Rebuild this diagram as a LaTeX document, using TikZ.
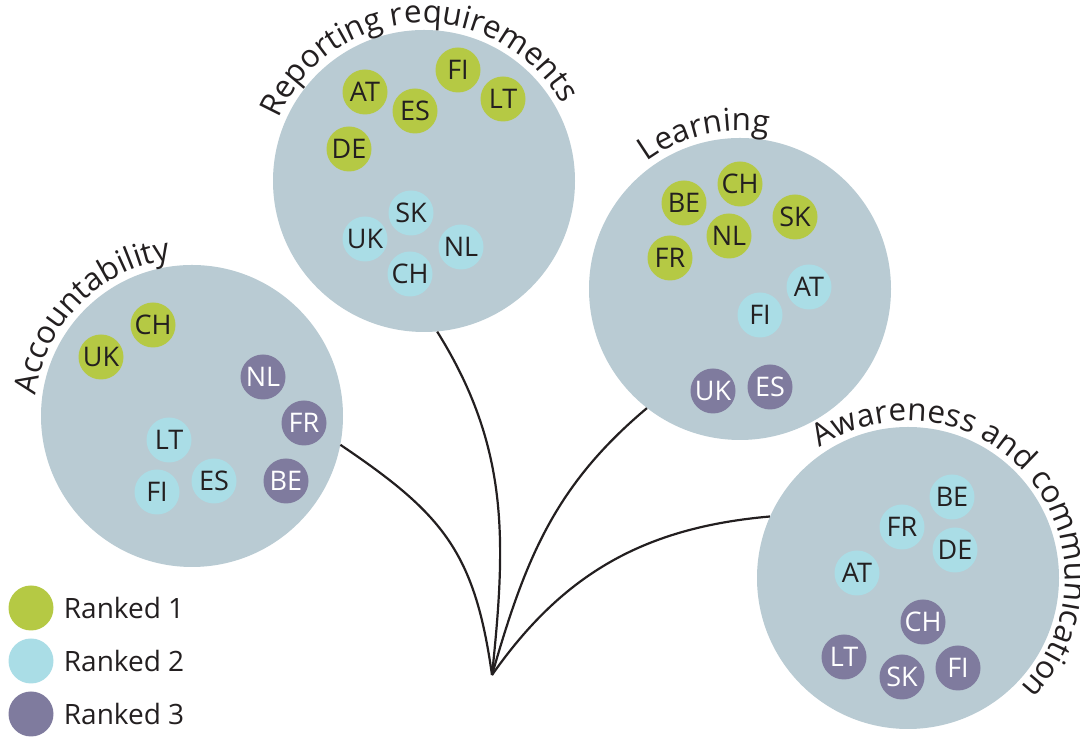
\documentclass[tikz,border=0pt]{standalone}
\usepackage{fontspec}
\setmainfont{Open Sans}
\usetikzlibrary{positioning,decorations.text}
\definecolor{topicgrey}{RGB}{185,203,211}
\definecolor{rankgreen}{RGB}{181,201,68}
\definecolor{rankblue}{RGB}{170,221,230}
\definecolor{rankpurple}{RGB}{127,123,158}
\definecolor{inkdark}{RGB}{35,31,32}

\begin{document}
\begin{tikzpicture}[
  x=1pt, y=1pt,
  every node/.style={font=\fontsize{27}{30}\selectfont, text=inkdark},
  topic/.style={circle, fill=topicgrey, minimum size=302pt, inner sep=0pt},
  country/.style={circle, minimum size=45pt, inner sep=0pt},
  rankone/.style={country, fill=rankgreen},
  ranktwo/.style={country, fill=rankblue},
  rankthree/.style={country, fill=rankpurple, text=white},
  branch/.style={draw=inkdark, line width=2.2pt},
  legendtext/.style={inner sep=0pt, font=\fontsize{28}{32}\selectfont},
  arclabel/.style={decorate, decoration={text along path, text align=center,
    text color=inkdark, text={|\fontsize{31.5}{36}\selectfont|#1}}}
  ]
\useasboundingbox (0,0) rectangle (1080,738);

% topic circles
\node[topic] (acc) at (192,322) {};
\node[topic] (rep) at (424,557) {};
\node[topic] (lea) at (740,449) {};
\node[topic] (awa) at (908,160) {};

% labels along the circles
\path[arclabel=Accountability] ([shift={(195:158)}]acc.center) arc[start angle=195, end angle=75, radius=158];
\path[arclabel=Reporting requirements] ([shift={(173:158)}]rep.center) arc[start angle=173, end angle=13, radius=158];
\path[arclabel=Learning] ([shift={(153:158)}]lea.center) arc[start angle=153, end angle=53, radius=158];
\path[arclabel=Awareness and communication] ([shift={(140:157)}]awa.center) arc[start angle=140, end angle=-60, radius=157];

% branches
\coordinate (hub) at (492,63);
\draw[branch] (hub) to[out=98,in=326,looseness=1.15] (acc.349);
\draw[branch] (hub) to[out=84,in=302] (rep.275);
\draw[branch] (hub) to[out=74,in=220] (lea.232);
\draw[branch] (hub) to[out=55,in=185] (awa.156);

% Accountability
\node[rankone] (accCH) at (153,413) {CH};
\node[rankone] (accUK) at (101,381) {UK};
\node[rankthree] (accNL) at (263,361) {NL};
\node[rankthree] (accFR) at (304,315) {FR};
\node[rankthree] (accBE) at (286,257) {BE};
\node[ranktwo] (accLT) at (169,298) {LT};
\node[ranktwo] (accES) at (214,257) {ES};
\node[ranktwo] (accFI) at (157,246) {FI};

% Reporting requirements
\node[rankone] (repAT) at (365,646) {AT};
\node[rankone] (repES) at (415,627) {ES};
\node[rankone] (repFI) at (458,668) {FI};
\node[rankone] (repLT) at (503,639) {LT};
\node[rankone] (repDE) at (349,589) {DE};
\node[ranktwo] (repSK) at (411,525) {SK};
\node[ranktwo] (repUK) at (365,499) {UK};
\node[ranktwo] (repNL) at (461,491) {NL};
\node[ranktwo] (repCH) at (410,464) {CH};

% Learning
\node[rankone] (leaBE) at (684,535) {BE};
\node[rankone] (leaCH) at (740,554) {CH};
\node[rankone] (leaSK) at (795,521) {SK};
\node[rankone] (leaNL) at (729,502) {NL};
\node[rankone] (leaFR) at (670,480) {FR};
\node[ranktwo] (leaAT) at (809,451) {AT};
\node[ranktwo] (leaFI) at (760,423) {FI};
\node[rankthree] (leaUK) at (713,347) {UK};
\node[rankthree] (leaES) at (770,351) {ES};

% Awareness and communication
\node[ranktwo] (awaBE) at (952,241) {BE};
\node[ranktwo] (awaFR) at (902,211) {FR};
\node[ranktwo] (awaDE) at (955,188) {DE};
\node[ranktwo] (awaAT) at (857,165) {AT};
\node[rankthree] (awaCH) at (923,116) {CH};
\node[rankthree] (awaLT) at (844,81) {LT};
\node[rankthree] (awaSK) at (902,61) {SK};
\node[rankthree] (awaFI) at (958,70) {FI};

% legend
\node[rankone] (legone) at (31,130) {};
\node[ranktwo] (legtwo) at (31,77) {};
\node[rankthree] (legthree) at (31,24) {};
\node[legendtext, right=10pt of legone] (legonetext) {Ranked 1};
\node[legendtext, right=10pt of legtwo] (legtwotext) {Ranked 2};
\node[legendtext, right=10pt of legthree] (legthreetext) {Ranked 3};

\end{tikzpicture}
\end{document}
